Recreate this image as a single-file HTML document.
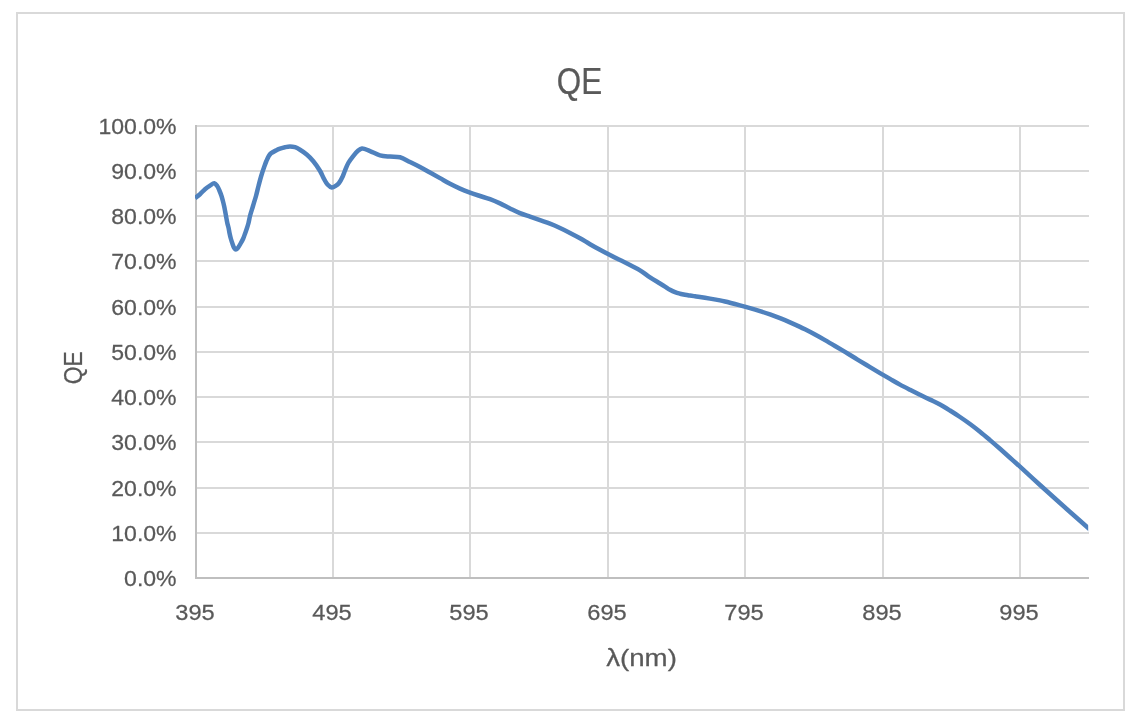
<!DOCTYPE html>
<html><head><meta charset="utf-8"><title>QE</title>
<style>
html,body{margin:0;padding:0;background:#fff;}
body{width:1131px;height:721px;overflow:hidden;position:relative;}
.frame{position:absolute;left:16px;top:12px;width:1105px;height:695px;border:2px solid #D9D9D9;}
svg{position:absolute;left:0;top:0;}
text{font-family:"Liberation Sans", Arial, sans-serif;fill:#595959;stroke:#595959;stroke-width:0.25px;}
</style></head>
<body>
<div class="frame"></div>
<svg width="1131" height="721" viewBox="0 0 1131 721">
<line x1="196" y1="533.0" x2="1089" y2="533.0" stroke="#D9D9D9" stroke-width="2"/>
<line x1="196" y1="488.0" x2="1089" y2="488.0" stroke="#D9D9D9" stroke-width="2"/>
<line x1="196" y1="442.0" x2="1089" y2="442.0" stroke="#D9D9D9" stroke-width="2"/>
<line x1="196" y1="397.0" x2="1089" y2="397.0" stroke="#D9D9D9" stroke-width="2"/>
<line x1="196" y1="352.0" x2="1089" y2="352.0" stroke="#D9D9D9" stroke-width="2"/>
<line x1="196" y1="307.0" x2="1089" y2="307.0" stroke="#D9D9D9" stroke-width="2"/>
<line x1="196" y1="261.0" x2="1089" y2="261.0" stroke="#D9D9D9" stroke-width="2"/>
<line x1="196" y1="216.0" x2="1089" y2="216.0" stroke="#D9D9D9" stroke-width="2"/>
<line x1="196" y1="171.0" x2="1089" y2="171.0" stroke="#D9D9D9" stroke-width="2"/>
<line x1="196" y1="126.0" x2="1089" y2="126.0" stroke="#D9D9D9" stroke-width="2"/>
<line x1="333.0" y1="125" x2="333.0" y2="578" stroke="#D9D9D9" stroke-width="2"/>
<line x1="470.0" y1="125" x2="470.0" y2="578" stroke="#D9D9D9" stroke-width="2"/>
<line x1="608.0" y1="125" x2="608.0" y2="578" stroke="#D9D9D9" stroke-width="2"/>
<line x1="745.0" y1="125" x2="745.0" y2="578" stroke="#D9D9D9" stroke-width="2"/>
<line x1="883.0" y1="125" x2="883.0" y2="578" stroke="#D9D9D9" stroke-width="2"/>
<line x1="1020.0" y1="125" x2="1020.0" y2="578" stroke="#D9D9D9" stroke-width="2"/>
<line x1="196" y1="125" x2="196" y2="579" stroke="#BFBFBF" stroke-width="2"/>
<line x1="195" y1="578" x2="1089" y2="578" stroke="#BFBFBF" stroke-width="2"/>
<clipPath id="c"><rect x="195" y="100" width="893.2" height="500"/></clipPath>
<path d="M195.00,198.10 C196.67,196.80 198.38,195.64 200.00,194.20 C201.71,192.68 203.27,190.67 205.00,189.20 C206.61,187.83 208.37,186.64 210.00,185.60 C211.46,184.67 213.06,183.04 214.30,183.20 C215.42,183.35 216.36,184.84 217.20,186.00 C218.18,187.36 218.88,189.32 219.60,191.00 C220.31,192.65 220.95,194.32 221.50,196.00 C222.04,197.65 222.47,199.33 222.90,201.00 C223.33,202.66 223.73,204.33 224.10,206.00 C224.47,207.66 224.78,209.33 225.10,211.00 C225.42,212.67 225.67,214.19 226.00,216.00 C226.39,218.14 226.83,220.87 227.30,223.00 C227.70,224.81 228.23,226.33 228.60,228.00 C228.96,229.66 229.15,231.30 229.50,233.00 C229.87,234.79 230.31,236.72 230.80,238.50 C231.28,240.22 231.82,241.89 232.40,243.50 C232.96,245.05 233.47,246.93 234.20,248.00 C234.71,248.74 235.32,249.57 235.90,249.60 C236.45,249.63 237.01,248.94 237.60,248.30 C238.55,247.25 239.66,245.13 240.60,243.50 C241.54,241.87 242.48,240.23 243.25,238.50 C244.03,236.74 244.61,234.79 245.25,233.00 C245.86,231.30 246.46,229.67 247.00,228.00 C247.54,226.34 248.03,224.82 248.50,223.00 C249.05,220.87 249.35,218.53 250.00,216.00 C250.78,212.95 252.00,209.33 253.00,206.00 C254.00,202.67 255.08,199.34 256.00,196.00 C256.91,192.68 257.63,189.33 258.50,186.00 C259.37,182.66 260.20,179.32 261.20,176.00 C262.20,172.65 263.52,168.75 264.50,166.00 C265.20,164.04 265.69,162.65 266.40,161.00 C267.12,159.32 267.93,157.37 268.80,156.00 C269.49,154.91 270.02,154.13 271.00,153.30 C272.26,152.22 274.40,151.20 276.00,150.40 C277.39,149.71 278.58,149.21 280.00,148.70 C281.56,148.14 283.32,147.58 285.00,147.20 C286.65,146.82 288.33,146.40 290.00,146.40 C291.67,146.40 293.37,146.68 295.00,147.20 C296.71,147.75 298.26,148.65 300.00,149.70 C302.12,150.98 304.55,152.66 306.70,154.50 C309.00,156.46 311.19,158.65 313.30,161.20 C315.68,164.07 318.28,167.91 320.10,171.00 C321.60,173.55 322.43,175.99 323.70,178.30 C324.90,180.48 326.01,182.93 327.50,184.50 C328.75,185.82 330.25,187.25 331.70,187.40 C333.09,187.54 334.75,186.38 336.00,185.60 C337.15,184.88 338.04,184.17 339.00,183.00 C340.34,181.36 341.80,178.44 342.80,176.30 C343.66,174.46 344.01,172.94 344.80,171.00 C345.78,168.60 346.90,165.48 348.30,163.00 C349.65,160.60 351.37,158.36 353.00,156.30 C354.51,154.38 356.06,152.37 357.70,151.00 C359.08,149.85 360.29,148.59 362.00,148.40 C364.21,148.16 367.20,150.04 370.00,151.10 C373.17,152.30 376.60,154.38 380.00,155.30 C383.27,156.18 386.66,156.27 390.00,156.60 C393.33,156.93 396.74,156.45 400.00,157.30 C403.42,158.19 406.68,160.39 410.00,162.00 C413.34,163.62 416.68,165.26 420.00,167.00 C423.35,168.76 426.67,170.65 430.00,172.50 C433.34,174.35 436.67,176.22 440.00,178.10 C443.34,179.99 446.64,182.04 450.00,183.80 C453.30,185.53 456.64,187.12 460.00,188.60 C463.31,190.05 466.65,191.36 470.00,192.60 C473.32,193.83 476.66,194.90 480.00,196.00 C483.33,197.10 486.69,197.98 490.00,199.20 C493.36,200.44 496.69,201.88 500.00,203.40 C503.36,204.94 506.66,206.78 510.00,208.40 C513.32,210.01 516.63,211.71 520.00,213.10 C523.30,214.47 526.66,215.52 530.00,216.70 C533.33,217.88 536.67,219.03 540.00,220.20 C543.33,221.37 546.69,222.41 550.00,223.70 C553.36,225.01 556.69,226.48 560.00,228.00 C563.35,229.54 566.68,231.21 570.00,232.90 C573.35,234.61 576.69,236.33 580.00,238.20 C583.36,240.10 586.65,242.26 590.00,244.20 C593.32,246.12 596.66,247.98 600.00,249.80 C603.32,251.61 606.66,253.38 610.00,255.10 C613.32,256.81 616.66,258.45 620.00,260.10 C623.33,261.75 626.68,263.31 630.00,265.00 C633.35,266.71 636.73,268.28 640.00,270.30 C643.40,272.40 646.63,275.18 650.00,277.40 C653.30,279.57 657.24,281.80 660.00,283.50 C661.96,284.70 663.34,285.55 665.00,286.60 C666.67,287.65 668.30,288.85 670.00,289.80 C671.64,290.71 673.31,291.54 675.00,292.20 C676.64,292.84 678.33,293.27 680.00,293.70 C681.66,294.13 683.33,294.48 685.00,294.80 C686.66,295.12 688.33,295.35 690.00,295.60 C691.67,295.85 693.33,296.07 695.00,296.30 C696.67,296.53 698.05,296.71 700.00,297.00 C702.76,297.41 706.67,298.03 710.00,298.60 C713.34,299.17 717.24,299.85 720.00,300.40 C721.96,300.79 722.89,301.00 725.00,301.50 C728.67,302.37 735.51,304.17 740.00,305.36 C743.67,306.33 746.67,307.13 750.00,308.08 C753.34,309.04 756.68,310.04 760.00,311.10 C763.34,312.17 766.68,313.29 770.00,314.47 C773.34,315.66 776.68,316.89 780.00,318.20 C783.34,319.51 786.68,320.89 790.00,322.33 C793.35,323.79 797.25,325.60 800.00,326.90 C801.96,327.83 803.05,328.37 805.00,329.35 C807.77,330.75 811.68,332.78 815.00,334.57 C818.35,336.37 821.68,338.24 825.00,340.13 C828.34,342.03 831.67,343.99 835.00,345.95 C838.34,347.92 841.67,349.93 845.00,351.94 C848.34,353.96 852.24,356.35 855.00,358.03 C856.95,359.22 858.05,359.88 860.00,361.07 C862.76,362.75 866.66,365.12 870.00,367.13 C873.33,369.13 876.66,371.13 880.00,373.10 C883.33,375.06 886.66,376.98 890.00,378.90 C893.33,380.81 896.65,382.77 900.00,384.60 C903.32,386.41 906.66,388.10 910.00,389.80 C913.33,391.50 916.66,393.16 920.00,394.80 C923.33,396.43 926.67,397.98 930.00,399.60 C933.34,401.22 936.70,402.71 940.00,404.50 C943.37,406.33 946.69,408.43 950.00,410.50 C953.35,412.59 956.69,414.76 960.00,417.00 C963.35,419.26 966.69,421.57 970.00,424.00 C973.36,426.47 976.69,429.04 980.00,431.70 C983.36,434.40 986.68,437.26 990.00,440.10 C993.35,442.96 996.67,445.87 1000.00,448.80 C1003.34,451.74 1006.67,454.72 1010.00,457.70 C1013.34,460.69 1016.10,463.16 1020.00,466.70 C1025.53,471.72 1033.32,478.94 1040.00,485.00 C1046.65,491.04 1053.33,497.03 1060.00,503.00 C1066.66,508.96 1073.93,515.39 1080.00,520.80 C1085.08,525.33 1089.33,529.13 1094.00,533.30" fill="none" stroke="#4F81BD" stroke-width="4.5" stroke-linejoin="round" clip-path="url(#c)"/>
<text transform="translate(176.6,586.00) scale(1.02,1)" text-anchor="end" font-size="22.6">0.0%</text>
<text transform="translate(176.6,541.00) scale(1.02,1)" text-anchor="end" font-size="22.6">10.0%</text>
<text transform="translate(176.6,496.00) scale(1.02,1)" text-anchor="end" font-size="22.6">20.0%</text>
<text transform="translate(176.6,450.00) scale(1.02,1)" text-anchor="end" font-size="22.6">30.0%</text>
<text transform="translate(176.6,405.00) scale(1.02,1)" text-anchor="end" font-size="22.6">40.0%</text>
<text transform="translate(176.6,360.00) scale(1.02,1)" text-anchor="end" font-size="22.6">50.0%</text>
<text transform="translate(176.6,315.00) scale(1.02,1)" text-anchor="end" font-size="22.6">60.0%</text>
<text transform="translate(176.6,269.00) scale(1.02,1)" text-anchor="end" font-size="22.6">70.0%</text>
<text transform="translate(176.6,224.00) scale(1.02,1)" text-anchor="end" font-size="22.6">80.0%</text>
<text transform="translate(176.6,179.00) scale(1.02,1)" text-anchor="end" font-size="22.6">90.0%</text>
<text transform="translate(176.6,134.00) scale(1.02,1)" text-anchor="end" font-size="22.6">100.0%</text>
<text transform="translate(195.00,620) scale(1.06,1)" text-anchor="middle" font-size="22.3">395</text>
<text transform="translate(332.00,620) scale(1.06,1)" text-anchor="middle" font-size="22.3">495</text>
<text transform="translate(469.00,620) scale(1.06,1)" text-anchor="middle" font-size="22.3">595</text>
<text transform="translate(607.00,620) scale(1.06,1)" text-anchor="middle" font-size="22.3">695</text>
<text transform="translate(744.00,620) scale(1.06,1)" text-anchor="middle" font-size="22.3">795</text>
<text transform="translate(882.00,620) scale(1.06,1)" text-anchor="middle" font-size="22.3">895</text>
<text transform="translate(1019.00,620) scale(1.06,1)" text-anchor="middle" font-size="22.3">995</text>
<text transform="translate(579.4,93.75) scale(0.85,1)" text-anchor="middle" font-size="37">QE</text>
<text transform="translate(81.8,367.8) rotate(-90) scale(0.9,1)" text-anchor="middle" font-size="25.4">QE</text>
<text transform="translate(641.5,665.6) scale(1.13,1)" text-anchor="middle" font-size="24.5">λ(nm)</text>
</svg>
</body></html>
